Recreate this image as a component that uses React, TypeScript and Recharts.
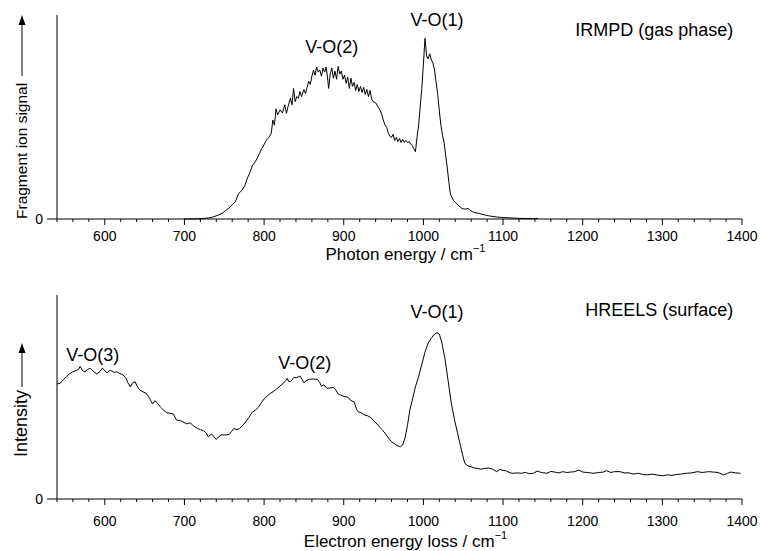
import { Line, LineChart, ReferenceDot, XAxis, YAxis } from 'recharts';

const FONT = '"Liberation Sans", Arial, Helvetica, sans-serif';

// IRMPD (gas phase) spectrum
const irmpdEnergy = [
  700, 708, 716, 724, 730, 736, 742, 748, 752, 756,
  760, 764, 768, 772, 776, 779, 782, 785, 788, 791,
  794, 797, 800, 803, 806, 809, 811, 813, 815, 817,
  820, 823, 826, 828, 830, 833, 835, 837, 839, 841,
  843, 845, 847, 850, 852, 854, 856, 858, 860, 862,
  864, 866, 868, 870, 872, 874, 876, 878, 880, 881,
  883, 885, 887, 889, 891, 893, 895, 897, 899, 901,
  903, 905, 907, 909, 911, 913, 915, 917, 919, 921,
  923, 925, 927, 929, 931, 933, 935, 937, 940, 943,
  946, 948, 950, 952, 954, 956, 958, 960, 962, 964,
  966, 968, 970, 972, 974, 976, 978, 980, 982, 984,
  986, 988, 990, 992, 994, 996, 998, 1000, 1002, 1004,
  1006, 1008, 1010, 1012, 1014, 1016, 1018, 1020, 1022, 1024,
  1026, 1028, 1030, 1032, 1034, 1036, 1038, 1040, 1042, 1044,
  1046, 1048, 1050, 1053, 1056, 1059, 1062, 1066, 1070, 1075,
  1080, 1086, 1092, 1100, 1110, 1120, 1130, 1144,
];
const irmpdSignal = [
  0, 0, 0.1, 0.3, 0.5, 1.0, 1.8, 3.0, 4.2, 5.4,
  7.0, 8.5, 12.5, 14.0, 16.5, 20.0, 22.5, 26.0, 27.5, 29.5,
  32.0, 34.5, 36.5, 38.7, 40.0, 42.0, 48.5, 46.0, 54.0, 51.0,
  53.5, 52.0, 56.0, 51.8, 55.0, 59.2, 56.0, 64.0, 57.5, 60.0,
  59.2, 62.5, 60.0, 63.5, 61.5, 64.5, 67.5, 66.0, 70.0, 73.0,
  70.5, 74.5, 72.0, 73.0, 70.0, 74.0, 72.0, 74.5, 68.0, 64.0,
  71.0, 74.0, 69.0, 72.5, 68.5, 74.8, 71.0, 72.5, 68.5, 70.5,
  66.5, 69.5, 64.0, 69.0, 65.0, 67.0, 63.0, 66.0, 62.5, 65.0,
  62.0, 64.5, 61.0, 63.5, 60.0, 63.0, 59.0, 57.5, 57.0, 55.0,
  53.0, 51.0, 48.0, 46.0, 45.0, 42.0, 40.5, 40.0, 41.5, 38.5,
  40.0, 38.0, 39.5, 37.5, 39.0, 37.5, 38.5, 37.5, 38.0, 36.8,
  36.0, 34.5, 33.0, 40.0, 46.0, 55.0, 64.0, 76.0, 88.6, 80.0,
  78.5, 81.0, 78.0, 76.5, 73.0, 67.0, 61.0, 53.0, 46.0, 41.0,
  37.5, 31.0, 25.0, 18.0, 12.0, 10.5, 9.0, 8.2, 7.5, 6.5,
  6.0, 5.3, 5.0, 4.8, 5.2, 4.2, 3.5, 3.0, 2.7, 2.2,
  1.7, 1.3, 1.0, 0.7, 0.5, 0.3, 0.2, 0.2,
];

// HREELS (surface) spectrum
const hreelsEnergy = [
  540, 544, 548, 552, 556, 560, 564, 567, 569, 572,
  575, 578, 582, 586, 590, 594, 597, 600, 603, 606,
  609, 612, 615, 619, 623, 627, 629, 632, 635, 638,
  641, 644, 648, 652, 656, 660, 663, 666, 670, 674,
  678, 682, 686, 690, 694, 698, 703, 707, 711, 716,
  720, 724, 727, 730, 734, 737, 740, 743, 746, 751,
  756, 759, 762, 766, 769, 773, 777, 781, 785, 789,
  793, 797, 800, 804, 808, 812, 816, 820, 824, 827,
  829, 831, 834, 837, 841, 845, 848, 850, 853, 856,
  860, 864, 867, 870, 872, 875, 879, 883, 887, 890,
  893, 896, 899, 902, 906, 909, 913, 916, 918, 922,
  926, 930, 934, 939, 944, 948, 952, 956, 960, 964,
  967, 971, 974, 977, 980, 983, 987, 990, 994, 998,
  1002, 1006, 1010, 1013, 1017, 1020, 1023, 1027, 1031, 1035,
  1039, 1043, 1046, 1049, 1052, 1056, 1060, 1064, 1068, 1072,
  1077, 1082, 1087, 1092, 1096, 1100, 1104, 1109, 1113, 1118,
  1123, 1128, 1133, 1138, 1143, 1148, 1155, 1160, 1165, 1170,
  1175, 1180, 1185, 1190, 1195, 1200, 1205, 1210, 1214, 1220,
  1226, 1230, 1235, 1240, 1247, 1252, 1258, 1264, 1270, 1276,
  1281, 1287, 1293, 1300, 1306, 1312, 1318, 1323, 1330, 1337,
  1344, 1350, 1358, 1364, 1370, 1377, 1382, 1386, 1392, 1398,
];
const hreelsIntensity = [
  56.4, 56.7, 58.5, 60.0, 61.5, 62.4, 63.0, 63.5, 65.0, 63.0,
  62.3, 63.5, 64.0, 62.5, 61.3, 62.5, 64.2, 63.0, 61.8, 63.0,
  62.8, 62.0, 62.4, 61.5, 60.8, 59.0, 57.0, 55.0, 57.0, 57.5,
  55.0, 53.4, 52.5, 51.8, 49.5, 46.6, 48.2, 47.0, 45.0, 43.5,
  42.3, 42.0, 41.7, 38.7, 38.5, 37.8, 36.8, 37.4, 36.0, 34.6,
  34.0, 33.5, 32.5, 30.5, 31.9, 30.5, 29.2, 30.5, 31.4, 31.4,
  31.6, 33.0, 34.6, 34.0, 34.5, 36.0, 37.9, 40.0, 42.5, 43.5,
  45.0, 47.5, 49.0, 50.5, 51.8, 52.8, 54.0, 55.4, 56.7, 58.0,
  59.2, 57.5, 57.8, 59.5, 59.5, 60.3, 58.5, 57.0, 58.0, 58.6,
  58.8, 58.8, 58.6, 57.0, 55.3, 56.0, 54.2, 54.5, 54.7, 53.5,
  51.5, 51.0, 50.5, 50.2, 49.8, 48.2, 47.7, 44.0, 42.8, 42.2,
  41.2, 40.8, 39.8, 37.9, 35.8, 34.0, 32.2, 30.0, 28.1, 27.0,
  26.2, 25.6, 26.5, 30.0, 36.0, 43.6, 50.0, 55.0, 60.0, 66.0,
  72.0, 76.5, 78.8, 80.5, 81.5, 80.8, 77.0, 69.0, 58.0, 47.0,
  39.0, 32.0, 27.0, 22.0, 17.5, 16.2, 15.8, 15.2, 15.0, 14.6,
  15.0, 15.2, 14.6, 13.4, 14.5, 14.0, 13.8, 12.8, 12.6, 12.8,
  12.6, 13.0, 12.4, 12.6, 13.7, 13.0, 12.6, 13.5, 13.2, 12.8,
  13.4, 13.0, 13.2, 13.4, 14.2, 13.2, 13.0, 12.8, 12.6, 13.0,
  13.2, 13.9, 13.0, 13.4, 13.4, 12.8, 12.8, 12.2, 12.6, 12.0,
  11.8, 12.2, 11.8, 11.4, 11.8, 11.6, 12.0, 12.2, 12.6, 12.8,
  13.4, 13.0, 13.4, 13.2, 13.0, 11.8, 12.6, 13.2, 12.8, 12.6,
];

const energyTicks = [
  540, 560, 580, 600, 620, 640, 660, 680, 700, 720, 740, 760, 780, 800, 820,
  840, 860, 880, 900, 920, 940, 960, 980, 1000, 1020, 1040, 1060, 1080, 1100,
  1120, 1140, 1160, 1180, 1200, 1220, 1240, 1260, 1280, 1300, 1320, 1340,
  1360, 1380, 1400,
];
const majorTicks = [600, 700, 800, 900, 1000, 1100, 1200, 1300, 1400];

// peak annotations (label text, energy, height in signal units)
const irmpdPeakText = ['V-O(2)', 'V-O(1)'];
const irmpdPeakEnergy = [885, 1017];
const irmpdPeakLevel = [84.3, 97.5];
const hreelsPeakText = ['V-O(3)', 'V-O(2)', 'V-O(1)'];
const hreelsPeakEnergy = [585, 851, 1017];
const hreelsPeakLevel = [70.6, 66.7, 91.7];

type Row = { energy: number; signal: number };
const zip = (xs: number[], ys: number[]): Row[] => xs.map((energy, i) => ({ energy, signal: ys[i] }));

const PLOT_LEFT = 57;
const PLOT_WIDTH = 685;

function makeTick(labelGap: number) {
  return function EnergyTick({ x, y, payload }: { x?: number; y?: number; payload?: { value: number } }) {
    const value = payload?.value ?? 0;
    const major = majorTicks.includes(value);
    const yy = y ?? 0;
    return (
      <g>
        <line x1={x} x2={x} y1={yy} y2={yy + (major ? 6 : 3)} stroke="#000" strokeWidth={1} />
        {major && (
          <text x={x} y={yy + labelGap} textAnchor="middle" fontSize={14} fontFamily={FONT} fill="#000">
            {value}
          </text>
        )}
      </g>
    );
  };
}

type PanelProps = {
  rows: Row[];
  height: number;
  top: number;
  bottom: number;
  tickGap: number;
  titleGap: number;
  caption: string;
  captionLevel: number;
  axisTitle: string;
  yText: string;
  yFont: number;
  yLift: number;
  arrowTip: number;
  arrowTail: number;
  peakText: string[];
  peakEnergy: number[];
  peakLevel: number[];
};

function Panel(p: PanelProps) {
  const plotBottom = p.height - p.bottom;
  const Tick = makeTick(p.tickGap);

  const xTitle = () => (
    <text
      x={PLOT_LEFT + PLOT_WIDTH / 2 + 6}
      y={plotBottom + p.titleGap}
      textAnchor="middle"
      fontSize={17}
      fontFamily={FONT}
      fill="#000"
    >
      {p.axisTitle}
      <tspan fontSize={11} dy={-8}>−1</tspan>
    </text>
  );

  const yTitle = () => {
    const bx = 26.5;
    const by = plotBottom - p.yLift;
    const ax = 22;
    const tip = p.top + p.arrowTip;
    return (
      <g>
        <text
          x={bx}
          y={by}
          transform={`rotate(-90 ${bx} ${by})`}
          textAnchor="start"
          fontSize={p.yFont}
          fontFamily={FONT}
          fill="#000"
        >
          {p.yText}
        </text>
        <line x1={ax} x2={ax} y1={p.top + p.arrowTail} y2={tip + 8} stroke="#000" strokeWidth={1} />
        <polygon points={`${ax},${tip} ${ax - 3.5},${tip + 10} ${ax + 3.5},${tip + 10}`} fill="#000" />
      </g>
    );
  };

  return (
    <LineChart width={760} height={p.height} data={p.rows} margin={{ top: p.top, right: 18, bottom: 0, left: 0 }}>
      <XAxis
        type="number"
        dataKey="energy"
        domain={[540, 1400]}
        ticks={energyTicks}
        interval={0}
        allowDataOverflow
        height={p.bottom}
        tickSize={0}
        tickMargin={0}
        tick={<Tick />}
        stroke="#000"
        label={xTitle}
      />
      <YAxis
        type="number"
        domain={[0, 100]}
        ticks={[0]}
        width={PLOT_LEFT}
        tickSize={10}
        tickMargin={4}
        stroke="#000"
        tick={{ fill: '#000', fontSize: 14, fontFamily: FONT }}
        label={yTitle}
      />
      {p.peakText.map((t, i) => (
        <ReferenceDot
          key={t}
          x={p.peakEnergy[i]}
          y={p.peakLevel[i]}
          r={0}
          fill="none"
          stroke="none"
          label={{ value: t, position: 'center', fill: '#000', fontSize: 18, fontFamily: FONT }}
        />
      ))}
      <ReferenceDot
        x={1389}
        y={p.captionLevel}
        r={0}
        fill="none"
        stroke="none"
        label={{ value: p.caption, position: 'left', offset: 0, fill: '#000', fontSize: 18, fontFamily: FONT }}
      />
      <Line
        type="linear"
        dataKey="signal"
        stroke="#000"
        strokeWidth={1}
        dot={false}
        activeDot={false}
        isAnimationActive={false}
      />
    </LineChart>
  );
}

export default function App() {
  return (
    <div style={{ position: 'relative', width: 760, height: 551, overflow: 'hidden', background: '#fff' }}>
      <style>{'body{margin:0}'}</style>
      <div style={{ position: 'absolute', left: 0, top: 0 }}>
        <Panel
          rows={zip(irmpdEnergy, irmpdSignal)}
          height={275}
          top={15}
          bottom={56}
          tickGap={22}
          titleGap={41}
          caption="IRMPD (gas phase)"
          captionLevel={92.6}
          axisTitle="Photon energy / cm"
          yText="Fragment ion signal"
          yFont={15.5}
          yLift={0}
          arrowTip={0}
          arrowTail={61}
          peakText={irmpdPeakText}
          peakEnergy={irmpdPeakEnergy}
          peakLevel={irmpdPeakLevel}
        />
      </div>
      <div style={{ position: 'absolute', left: 0, top: 275 }}>
        <Panel
          rows={zip(hreelsEnergy, hreelsIntensity)}
          height={276}
          top={20}
          bottom={52}
          tickGap={27}
          titleGap={48}
          caption="HREELS (surface)"
          captionLevel={92.6}
          axisTitle="Electron energy loss / cm"
          yText="Intensity"
          yFont={18}
          yLift={42}
          arrowTip={48}
          arrowTail={92}
          peakText={hreelsPeakText}
          peakEnergy={hreelsPeakEnergy}
          peakLevel={hreelsPeakLevel}
        />
      </div>
    </div>
  );
}
